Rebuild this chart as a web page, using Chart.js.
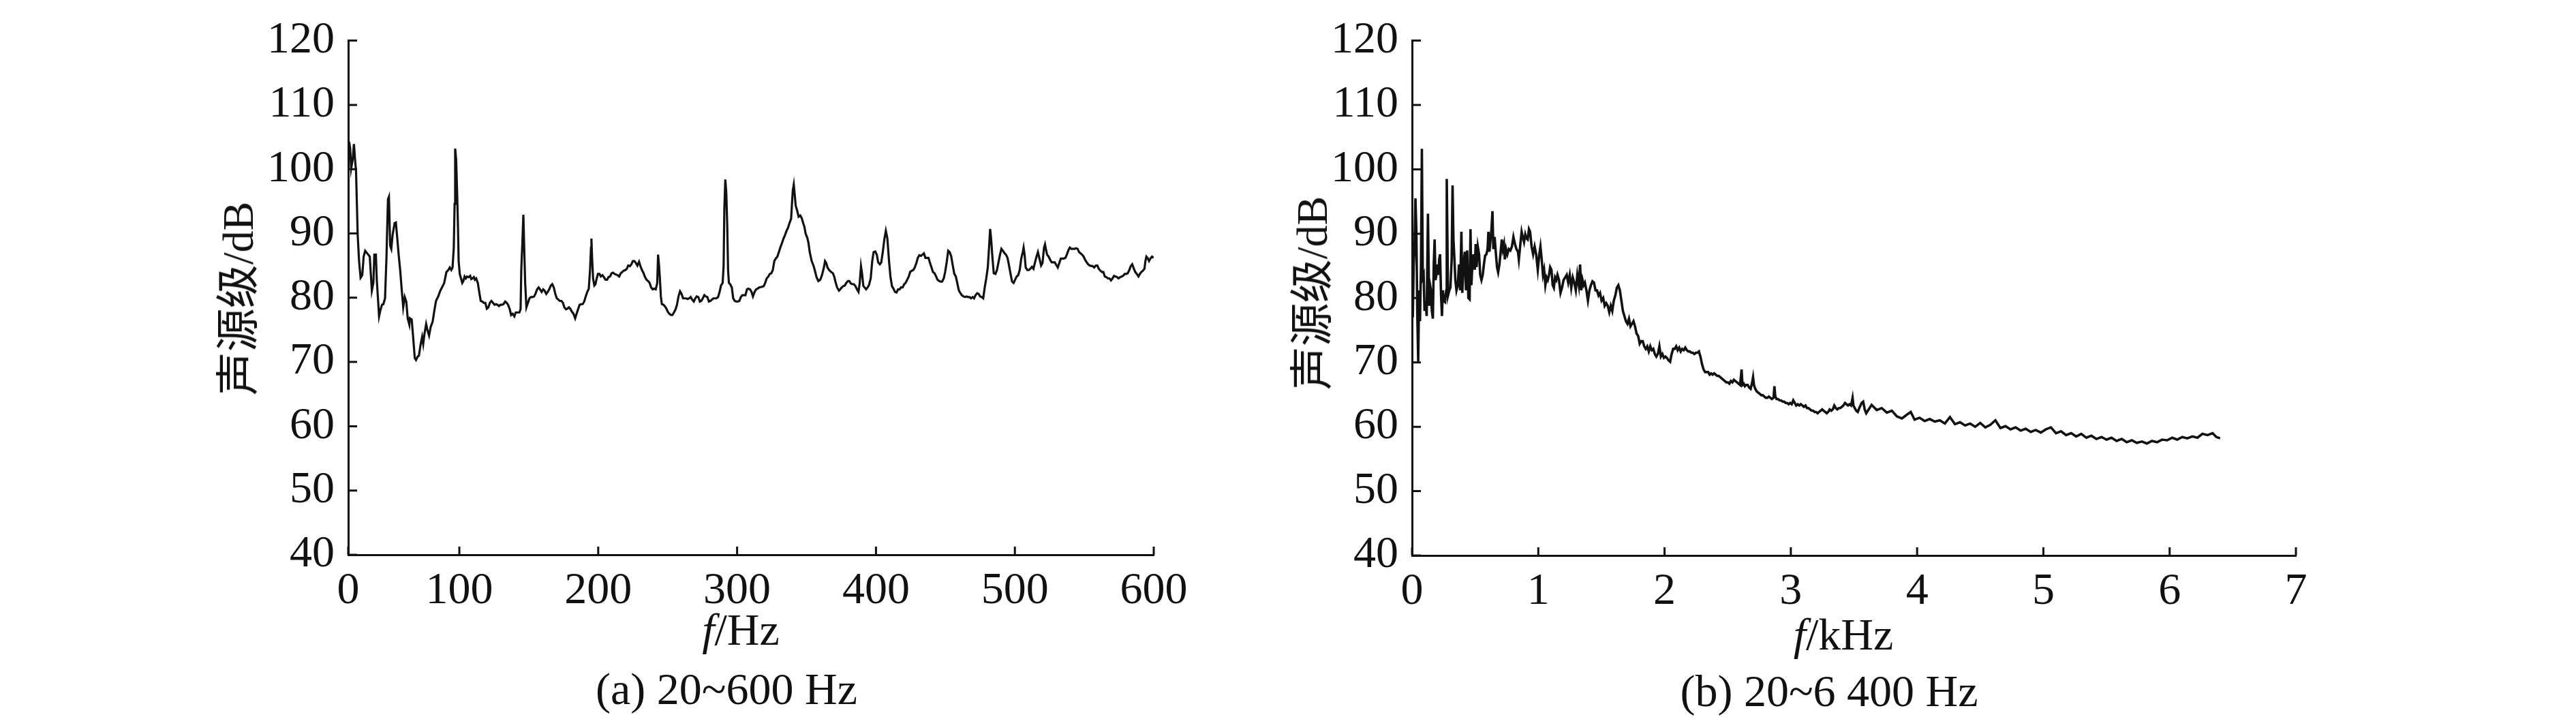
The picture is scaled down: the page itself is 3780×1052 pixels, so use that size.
<!DOCTYPE html>
<html>
<head>
<meta charset="utf-8">
<script src="https://cdn.jsdelivr.net/npm/chart.js@4.4.1/dist/chart.umd.min.js"></script>
<style>
  body { margin: 0; background: #fff; width: 3780px; height: 1052px; overflow: hidden; position: relative;
         font-family: "Liberation Serif", "Noto Sans CJK SC", serif; color: #111; }
  canvas { position: absolute; top: 0; }
  .lbl { position: absolute; font-size: 66px; line-height: 1; white-space: nowrap; transform: translateX(-50%); }
  .ytitle { position: absolute; font-size: 64px; line-height: 1; white-space: nowrap;
            font-family: "Liberation Serif", "Noto Sans CJK SC", serif;
            transform: translate(-50%, -50%) rotate(-90deg); }
</style>
</head>
<body>
<canvas id="chartA" width="1890" height="1052" style="left:0"></canvas>
<canvas id="chartB" width="1890" height="1052" style="left:1890px"></canvas>

<div class="ytitle" style="left:350px;top:438px">声源级/dB</div>
<div class="lbl" style="left:1087px;top:891px"><i>f</i>/Hz</div>
<div class="lbl" style="left:1066px;top:978px">(a) 20~600 Hz</div>

<div class="ytitle" style="left:1926px;top:430px">声源级/dB</div>
<div class="lbl" style="left:2705px;top:898px"><i>f</i>/kHz</div>
<div class="lbl" style="left:2684px;top:981px">(b) 20~6 400 Hz</div>

<script>
// tick values and labels
const levelTicks = [40, 50, 60, 70, 80, 90, 100, 110, 120];
const hzTicks = [20, 100, 200, 300, 400, 500, 600];      // axis starts at 20 Hz, labelled "0"
const hzLabels = ['0', '100', '200', '300', '400', '500', '600'];
const khzTicks = [0, 1, 2, 3, 4, 5, 6, 7];
const khzLabels = ['0', '1', '2', '3', '4', '5', '6', '7'];

// (a) 20~600 Hz : [frequency Hz, source level dB]
const spectrumLow = [
  [20.6,104.3],[21.4,103.2],[22.1,100.1],[23.2,101.5],[24.1,103.9],[24.9,101.5],[25.6,99.8],[26.1,95.7],[26.8,89.8],[27.8,85.7],
  [28.9,83.1],[30.1,83.5],[31.1,86.4],[32.2,87.3],[34.4,86.7],[35.5,86.4],[37.0,81.1],[38.1,82.3],[38.8,86.7],[39.9,86.7],
  [40.5,83.0],[41.4,79.9],[42.2,77.1],[43.1,78.0],[44.3,78.9],[45.3,79.0],[46.5,79.9],[47.5,86.1],[48.6,95.3],[49.3,95.7],
  [50.2,88.1],[51.0,87.6],[51.9,89.7],[53.4,91.6],[54.3,91.7],[55.2,89.5],[56.3,86.7],[57.4,84.3],[58.5,81.3],[59.6,78.5],
  [60.7,80.1],[61.8,79.4],[62.8,76.8],[64.0,75.8],[64.4,76.8],[65.7,76.6],[66.8,73.7],[67.9,70.6],[68.8,70.3],[69.9,70.8],
  [70.9,71.0],[72.1,72.7],[73.2,73.9],[74.0,72.8],[74.9,74.4],[76.1,75.9],[77.1,74.9],[78.2,74.1],[79.3,75.4],[80.8,76.3],
  [82.0,78.0],[83.2,79.5],[84.8,80.2],[86.3,81.1],[88.0,81.8],[89.1,82.3],[90.7,84.0],[92.0,84.3],[93.1,84.7],[94.2,84.3],
  [95.1,84.7],[96.0,87.8],[96.6,94.6],[97.0,103.2],[97.7,101.5],[98.4,96.4],[99.0,91.2],[99.5,85.7],[100.3,83.7],[101.2,83.0],
  [102.1,82.3],[102.9,82.6],[103.8,83.3],[104.7,83.0],[105.5,83.3],[106.7,83.2],[107.8,83.4],[108.6,82.9],[109.5,83.0],[110.4,83.2],
  [111.2,82.8],[112.1,83.0],[113.3,82.3],[114.3,80.9],[115.4,79.5],[116.6,79.4],[117.6,79.2],[118.7,79.2],[119.8,78.3],[120.9,78.5],
  [122.0,79.2],[123.1,79.5],[124.2,79.2],[125.3,78.9],[126.4,79.0],[127.5,78.9],[128.5,78.7],[129.7,78.9],[130.8,78.9],[131.8,79.0],
  [133.0,79.4],[134.1,79.2],[135.1,78.9],[136.3,78.2],[137.3,77.3],[138.4,77.5],[139.6,77.1],[140.6,77.7],[141.7,77.7],[143.2,77.7],
  [144.1,78.2],[144.6,84.3],[145.5,89.2],[146.1,92.9],[146.7,87.8],[147.4,82.3],[148.3,78.5],[149.4,79.2],[150.5,79.9],[151.6,80.1],
  [152.7,80.1],[153.8,80.2],[154.8,80.6],[156.0,81.3],[157.1,81.6],[158.1,81.3],[159.3,80.9],[160.4,81.3],[161.4,81.1],[162.6,80.6],
  [163.6,80.9],[164.7,81.3],[165.9,81.9],[166.9,82.1],[168.0,81.6],[169.1,80.6],[170.2,79.9],[171.3,79.7],[172.3,79.5],[173.5,79.5],
  [174.6,79.2],[175.6,78.5],[176.8,78.2],[177.8,78.3],[178.9,78.5],[180.1,78.2],[181.1,77.8],[182.2,77.5],[183.4,76.8],[184.4,77.5],
  [185.5,78.2],[186.6,78.9],[187.7,79.0],[188.8,79.0],[189.9,79.4],[191.0,80.2],[192.1,80.9],[193.2,81.4],[194.1,84.3],[194.8,87.8],
  [195.1,89.2],[195.6,86.1],[196.3,83.0],[197.2,81.9],[198.0,82.1],[198.9,83.0],[199.8,83.7],[200.9,83.7],[201.9,83.3],[203.1,83.5],
  [204.1,83.2],[205.2,82.8],[206.4,82.8],[207.4,83.2],[208.5,83.3],[209.6,83.8],[210.7,83.9],[211.8,83.7],[212.9,83.6],[214.0,83.5],
  [215.1,83.3],[216.2,83.8],[217.3,84.0],[218.3,84.2],[219.5,84.3],[220.6,84.5],[221.6,85.0],[222.8,84.9],[223.9,85.2],[224.9,85.7],
  [226.1,85.7],[227.1,85.4],[228.2,85.0],[229.4,85.6],[230.4,84.9],[231.5,84.3],[232.7,83.8],[233.7,83.2],[234.8,82.8],[235.9,82.6],
  [237.0,82.3],[238.1,81.6],[239.2,81.3],[240.3,81.4],[241.4,81.3],[242.5,82.3],[243.1,86.7],[243.8,85.0],[244.4,83.0],[245.1,80.2],
  [245.8,79.0],[246.9,78.9],[247.9,78.7],[249.1,78.3],[250.1,77.8],[251.2,77.5],[252.4,77.3],[253.4,77.3],[254.5,77.7],[255.7,78.2],
  [256.7,78.9],[257.8,80.2],[258.9,81.0],[260.0,80.6],[261.1,79.9],[262.2,79.9],[263.3,79.9],[264.4,79.8],[265.5,79.9],[266.6,80.1],
  [267.6,79.7],[268.8,79.4],[269.9,79.9],[270.9,80.2],[272.1,80.1],[273.2,79.4],[274.2,79.5],[275.3,79.9],[276.4,80.4],[277.5,80.2],
  [278.6,80.1],[279.7,79.4],[280.8,79.5],[281.8,79.7],[283.0,79.9],[285.1,79.9],[286.3,80.1],[287.4,80.9],[288.4,81.9],[289.6,82.3],
  [290.3,85.0],[290.8,93.6],[291.5,98.4],[292.2,96.4],[292.9,91.2],[293.5,84.3],[294.1,82.3],[295.0,82.1],[296.2,81.6],[297.2,79.9],
  [298.3,79.5],[299.4,79.4],[300.5,79.4],[301.6,79.5],[302.7,80.1],[303.8,80.4],[306.0,80.4],[307.1,81.3],[308.1,81.4],[309.3,81.3],
  [310.4,80.9],[311.4,80.2],[312.6,80.9],[313.7,81.3],[314.7,81.4],[315.9,81.6],[318.1,81.7],[319.2,81.8],[320.2,82.3],[321.3,83.0],
  [322.5,83.3],[323.5,83.7],[324.6,83.8],[325.7,84.3],[326.8,85.7],[327.9,86.1],[329.0,86.4],[330.1,87.1],[331.1,87.8],[332.3,88.5],
  [333.4,89.2],[334.4,89.7],[335.6,90.4],[336.7,90.9],[337.7,91.6],[338.9,92.3],[339.5,94.6],[340.1,96.7],[340.8,97.6],[341.5,96.0],
  [342.2,94.3],[343.2,93.6],[344.3,92.6],[345.5,92.8],[346.5,92.4],[347.6,91.6],[348.5,91.0],[349.3,90.0],[350.6,89.3],[351.4,88.5],
  [352.3,87.1],[353.7,85.7],[355.0,85.0],[355.9,84.3],[357.2,83.2],[358.5,82.6],[359.9,82.8],[361.1,83.5],[362.5,84.7],[363.3,85.7],
  [364.2,85.4],[365.1,84.7],[366.3,84.3],[367.7,84.0],[369.0,83.8],[369.9,83.3],[370.8,82.5],[372.0,81.6],[373.4,81.1],[374.3,81.3],
  [375.3,81.6],[376.5,81.8],[377.5,81.9],[378.6,82.3],[379.8,82.6],[380.8,82.6],[381.9,82.2],[383.1,82.1],[384.1,82.1],[385.2,81.8],
  [386.3,81.3],[387.4,80.9],[388.3,82.3],[389.2,84.9],[390.0,83.7],[390.9,81.8],[391.8,81.6],[392.9,81.3],[394.0,81.6],[395.0,82.0],
  [396.2,83.0],[397.3,85.7],[398.3,87.1],[399.5,87.2],[400.6,86.7],[401.6,85.5],[402.8,85.2],[403.8,85.5],[404.9,87.1],[406.1,89.2],
  [407.1,90.4],[408.2,89.2],[409.4,85.7],[410.4,83.3],[411.5,81.8],[412.6,81.4],[413.7,80.9],[414.8,80.8],[415.9,81.3],[417.0,81.3],
  [418.0,81.6],[419.2,81.6],[420.3,82.1],[421.3,82.3],[422.5,82.8],[423.6,83.3],[424.6,84.0],[425.8,84.2],[426.8,84.3],[427.9,84.7],
  [429.1,85.4],[430.1,86.2],[431.2,86.6],[432.4,86.5],[433.4,86.7],[434.5,86.9],[435.6,86.2],[437.8,86.2],[438.9,85.4],[440.0,84.7],
  [441.0,84.0],[442.2,83.8],[443.3,83.3],[444.3,82.8],[445.5,82.6],[446.6,82.5],[447.6,82.5],[448.8,83.0],[449.8,84.0],[450.9,85.5],
  [452.0,87.3],[453.1,87.1],[454.2,86.4],[455.3,85.0],[456.4,83.7],[457.5,83.3],[458.5,82.3],[459.7,81.1],[460.8,80.7],[461.8,80.4],
  [463.0,80.2],[464.1,80.1],[465.1,80.2],[466.3,80.1],[467.4,80.1],[468.4,79.9],[469.6,80.1],[470.6,79.9],[471.7,80.4],[472.9,80.7],
  [473.9,80.6],[475.0,80.2],[476.1,80.1],[477.2,79.9],[478.3,81.6],[479.4,83.0],[480.5,84.7],[481.6,88.5],[482.2,90.7],[482.9,89.2],
  [483.8,86.4],[484.8,83.8],[486.0,83.7],[487.1,84.3],[488.1,85.4],[489.3,86.7],[490.3,87.6],[491.4,87.3],[492.6,86.9],[493.6,86.7],
  [494.7,86.2],[495.8,85.0],[496.9,83.7],[498.0,82.5],[499.1,82.3],[500.2,82.8],[501.3,83.3],[502.4,83.5],[503.5,84.3],[504.6,86.1],
  [505.7,87.1],[506.3,87.8],[507.0,86.7],[507.8,84.7],[509.0,84.3],[510.1,84.3],[511.1,84.5],[512.3,84.8],[513.4,84.5],[514.4,85.4],
  [515.6,86.4],[516.6,87.1],[517.7,86.1],[518.9,85.0],[519.9,85.4],[521.0,87.8],[521.7,88.3],[522.3,87.6],[523.2,86.7],[524.3,86.4],
  [525.4,85.9],[526.5,85.5],[528.7,85.5],[529.8,85.1],[530.9,84.7],[532.0,85.4],[533.1,86.1],[535.3,86.1],[536.4,86.2],[537.4,86.7],
  [538.6,87.4],[539.6,87.8],[540.7,87.6],[542.9,87.6],[544.0,87.7],[545.2,87.6],[546.2,87.1],[547.3,86.9],[548.4,86.7],[549.5,86.4],
  [550.6,85.9],[551.7,85.5],[552.8,85.2],[553.9,85.0],[556.1,84.9],[557.1,84.7],[558.3,85.0],[559.4,85.0],[560.4,84.5],[561.6,84.2],
  [562.7,84.0],[563.7,84.0],[564.8,83.3],[565.9,83.2],[567.0,83.0],[568.1,83.0],[569.2,82.7],[570.3,83.0],[571.4,83.4],[572.5,83.3],
  [573.6,83.2],[574.6,83.0],[575.8,83.2],[576.9,83.3],[577.9,83.4],[579.1,83.7],[580.2,83.7],[581.2,83.8],[582.4,84.3],[583.4,84.9],
  [584.5,85.2],[585.7,84.5],[586.7,84.0],[587.8,83.7],[589.0,83.3],[590.0,83.7],[591.1,84.0],[592.2,84.2],[593.3,84.5],[594.0,85.7],
  [594.7,86.4],[595.5,86.2],[596.6,85.7],[597.6,86.1],[598.8,86.4],[599.9,86.2]
];

// (b) 20~6 400 Hz : [frequency kHz, source level dB]
const spectrumFull = [
  [0.001,80.0],[0.006,77.0],[0.013,85.0],[0.020,88.0],[0.027,95.5],[0.034,90.7],[0.042,77.2],[0.049,70.1],[0.056,81.2],[0.063,76.4],
  [0.071,85.2],[0.078,103.2],[0.085,83.2],[0.092,83.6],[0.099,78.0],[0.107,79.6],[0.116,77.2],[0.126,93.1],[0.136,78.8],[0.143,82.0],
  [0.150,81.2],[0.157,78.0],[0.165,76.8],[0.172,85.2],[0.179,89.1],[0.186,82.8],[0.193,83.6],[0.201,85.2],[0.208,83.6],[0.215,86.0],
  [0.222,86.8],[0.230,80.4],[0.237,77.2],[0.244,81.2],[0.251,79.6],[0.261,79.4],[0.271,81.2],[0.275,98.5],[0.285,80.4],[0.295,81.2],
  [0.304,81.6],[0.314,86.0],[0.321,97.5],[0.328,89.1],[0.336,86.0],[0.343,82.8],[0.352,81.2],[0.362,82.0],[0.372,85.2],[0.381,81.2],
  [0.391,90.3],[0.398,80.8],[0.408,85.2],[0.418,87.2],[0.427,81.2],[0.437,87.4],[0.446,80.0],[0.456,79.8],[0.463,90.7],[0.470,82.0],
  [0.478,85.2],[0.487,86.8],[0.497,84.4],[0.504,88.4],[0.511,84.8],[0.521,88.0],[0.531,86.8],[0.540,83.6],[0.550,82.8],[0.560,83.6],
  [0.569,85.2],[0.579,86.6],[0.589,86.8],[0.598,87.6],[0.605,90.3],[0.613,87.2],[0.622,89.1],[0.629,90.7],[0.637,93.5],[0.644,87.6],
  [0.654,89.5],[0.663,87.2],[0.673,84.8],[0.682,84.0],[0.692,85.2],[0.702,87.2],[0.711,89.1],[0.719,87.6],[0.728,88.4],[0.735,86.0],
  [0.745,87.6],[0.755,86.8],[0.767,87.6],[0.779,87.4],[0.791,88.0],[0.803,89.5],[0.815,88.4],[0.827,87.6],[0.839,87.2],[0.846,86.0],
  [0.858,88.4],[0.868,90.3],[0.877,89.5],[0.887,88.7],[0.897,89.9],[0.906,89.3],[0.916,89.1],[0.926,90.7],[0.935,90.3],[0.947,88.0],
  [0.959,86.8],[0.971,88.0],[0.983,86.8],[0.996,84.4],[1.008,86.8],[1.017,88.0],[1.027,86.0],[1.037,83.6],[1.046,84.4],[1.056,82.0],
  [1.066,83.2],[1.075,82.8],[1.085,83.6],[1.094,84.8],[1.104,84.4],[1.114,82.0],[1.123,81.6],[1.133,83.2],[1.143,82.8],[1.152,83.6],
  [1.164,82.8],[1.176,80.8],[1.188,81.6],[1.200,82.8],[1.213,83.2],[1.225,83.6],[1.237,82.4],[1.249,83.6],[1.261,81.6],[1.273,83.2],
  [1.285,82.4],[1.297,81.2],[1.309,83.6],[1.321,82.0],[1.331,85.2],[1.340,81.2],[1.350,82.8],[1.359,82.0],[1.369,82.4],[1.381,81.2],
  [1.393,79.6],[1.405,81.2],[1.417,82.0],[1.429,82.6],[1.441,82.4],[1.453,81.2],[1.465,81.2],[1.477,80.4],[1.489,80.8],[1.501,79.6],
  [1.514,80.0],[1.526,78.8],[1.538,79.2],[1.550,78.8],[1.562,77.8],[1.574,78.8],[1.586,78.0],[1.598,79.6],[1.610,80.4],[1.622,81.6],
  [1.634,82.0],[1.646,81.2],[1.658,79.6],[1.670,78.0],[1.682,77.2],[1.694,76.4],[1.706,76.0],[1.718,76.8],[1.730,75.6],[1.742,76.0],
  [1.754,76.4],[1.766,75.6],[1.778,74.5],[1.791,74.1],[1.803,72.9],[1.815,73.3],[1.827,73.3],[1.839,72.5],[1.851,72.1],[1.863,72.5],
  [1.875,71.7],[1.887,72.5],[1.899,71.9],[1.911,72.1],[1.923,71.3],[1.935,70.9],[1.947,71.3],[1.959,72.5],[1.971,70.9],[1.983,71.3],
  [1.995,70.7],[2.007,70.9],[2.019,70.7],[2.032,70.3],[2.044,70.1],[2.056,71.3],[2.068,72.1],[2.080,72.1],[2.092,72.5],[2.104,71.9],
  [2.116,72.3],[2.128,71.7],[2.140,72.1],[2.152,71.9],[2.164,72.3],[2.176,71.9],[2.188,71.7],[2.200,71.7],[2.212,71.5],[2.224,71.5],
  [2.236,71.3],[2.248,71.5],[2.260,71.5],[2.272,71.7],[2.284,70.9],[2.297,69.7],[2.309,68.9],[2.321,68.5],[2.333,68.5],[2.345,68.5],
  [2.357,68.1],[2.369,68.3],[2.381,68.1],[2.393,68.3],[2.405,68.1],[2.417,67.9],[2.429,67.9],[2.441,67.7],[2.453,67.5],[2.465,67.3],
  [2.477,67.1],[2.489,66.9],[2.501,66.9],[2.513,66.7],[2.525,67.1],[2.537,66.9],[2.549,67.3],[2.561,67.1],[2.573,66.9],[2.585,66.7],
  [2.598,66.5],[2.610,68.9],[2.617,66.5],[2.627,66.7],[2.636,66.3],[2.646,66.5],[2.658,66.5],[2.670,66.1],[2.682,65.9],[2.694,66.9],
  [2.701,67.7],[2.708,66.5],[2.718,65.9],[2.730,65.5],[2.742,65.3],[2.754,65.1],[2.766,64.9],[2.778,64.9],[2.790,64.7],[2.802,64.5],
  [2.814,64.5],[2.826,64.7],[2.838,64.5],[2.850,64.3],[2.863,64.5],[2.870,66.3],[2.877,64.7],[2.887,64.3],[2.899,64.3],[2.911,64.1],
  [2.923,64.1],[2.935,63.9],[2.947,63.9],[2.959,63.7],[2.971,63.7],[2.983,63.5],[2.995,63.7],[3.007,63.5],[3.019,64.1],[3.031,63.7],
  [3.043,63.3],[3.055,63.5],[3.067,63.3],[3.079,63.5],[3.091,63.3],[3.103,63.1],[3.116,63.3],[3.128,62.9],[3.140,62.9],[3.152,62.7],
  [3.164,62.5],[3.176,62.5],[3.188,62.3],[3.200,62.3],[3.212,62.1],[3.224,62.3],[3.236,62.5],[3.248,62.7],[3.260,62.5],[3.272,62.3],
  [3.284,62.1],[3.296,62.3],[3.308,62.7],[3.320,62.5],[3.332,62.7],[3.344,63.3],[3.356,62.9],[3.368,62.7],[3.380,62.9],[3.392,62.9],
  [3.404,63.1],[3.416,63.3],[3.429,63.7],[3.441,63.5],[3.453,63.3],[3.465,63.5],[3.477,63.3],[3.489,64.5],[3.496,63.3],[3.506,62.9],
  [3.518,62.5],[3.530,62.3],[3.542,62.9],[3.561,63.7],[3.573,63.9],[3.585,62.7],[3.597,62.1],[3.64,63.4],[3.68,62.6],[3.72,62.9],
  [3.76,62.2],[3.80,62.5],[3.84,61.6],[3.88,61.3],[3.92,61.9],[3.95,62.3],[3.98,61.1],[4.02,61.4],[4.06,60.9],[4.10,61.2],
  [4.14,60.8],[4.18,61.0],[4.22,60.5],[4.26,61.5],[4.30,60.4],[4.34,60.7],[4.38,60.2],[4.42,60.5],[4.46,60.0],[4.50,60.6],
  [4.54,59.9],[4.58,60.3],[4.62,61.0],[4.66,59.8],[4.70,60.1],[4.74,59.6],[4.78,59.9],[4.82,59.4],[4.86,59.7],[4.90,59.2],
  [4.94,59.5],[4.98,59.1],[5.02,59.6],[5.06,59.9],[5.10,59.0],[5.14,59.3],[5.18,58.7],[5.22,59.0],[5.26,58.5],[5.30,58.9],
  [5.34,58.3],[5.38,58.6],[5.42,58.1],[5.46,58.4],[5.50,58.0],[5.54,58.3],[5.58,57.8],[5.62,58.1],[5.66,57.6],[5.70,57.9],
  [5.74,57.5],[5.78,57.7],[5.82,57.4],[5.86,57.8],[5.90,57.6],[5.94,58.0],[5.98,57.9],[6.02,58.3],[6.06,58.0],[6.10,58.4],
  [6.14,58.2],[6.18,58.5],[6.22,58.3],[6.26,58.9],[6.30,58.7],[6.34,59.0],[6.37,58.4],[6.40,58.2]
];

const INK = '#111';
const FONT = { family: '"Liberation Serif", "Times New Roman", serif', size: 66 };

// ticks drawn inward, as in the original figure
const innerTicks = {
  id: 'innerTicks',
  afterDraw(chart) {
    const { ctx, chartArea: a, scales: { x, y } } = chart;
    ctx.save();
    ctx.strokeStyle = INK;
    ctx.lineWidth = 3;
    ctx.beginPath();
    x.ticks.forEach(t => {
      const px = x.getPixelForValue(t.value);
      ctx.moveTo(px, a.bottom);
      ctx.lineTo(px, a.bottom - 12);
    });
    y.ticks.forEach(t => {
      const py = y.getPixelForValue(t.value);
      ctx.moveTo(a.left, py);
      ctx.lineTo(a.left + 13, py);
    });
    ctx.stroke();
    ctx.restore();
  }
};

function makeChart(id, points, xTicks, xLabels, xMin, xMax, lineW, box) {
  return new Chart(document.getElementById(id), {
    type: 'scatter',
    data: {
      datasets: [{
        data: points.map(p => ({ x: p[0], y: p[1] })),
        showLine: true,
        borderColor: INK,
        borderWidth: lineW,
        pointRadius: 0,
        tension: 0
      }]
    },
    options: {
      responsive: false,
      animation: false,
      events: [],
      layout: { padding: { top: box.top, right: box.right, left: 0, bottom: 0 } },
      plugins: { legend: { display: false }, tooltip: { enabled: false } },
      scales: {
        x: {
          type: 'linear', min: xMin, max: xMax,
          afterBuildTicks: s => { s.ticks = xTicks.map(v => ({ value: v })); },
          afterFit: s => { s.height = box.xHeight; },
          grid: { display: false, drawTicks: false },
          border: { display: true, color: INK, width: 3 },
          ticks: { color: INK, font: FONT, padding: 14, maxRotation: 0, autoSkip: false,
                   callback: (v, i) => xLabels[i] }
        },
        y: {
          min: 40, max: 120,
          afterBuildTicks: s => { s.ticks = levelTicks.map(v => ({ value: v })); },
          afterFit: s => { s.width = box.yWidth; },
          grid: { display: false, drawTicks: false },
          border: { display: true, color: INK, width: 3 },
          ticks: { color: INK, font: FONT, padding: 20 }
        }
      }
    },
    plugins: [innerTicks]
  });
}

makeChart('chartA', spectrumLow, hzTicks, hzLabels, 20, 600, 3.2, { top: 37, right: 197, xHeight: 238, yWidth: 511 });
makeChart('chartB', spectrumFull, khzTicks, khzLabels, 0, 7, 3.6, { top: 44, right: 411, xHeight: 237, yWidth: 182 });
</script>
</body>
</html>
